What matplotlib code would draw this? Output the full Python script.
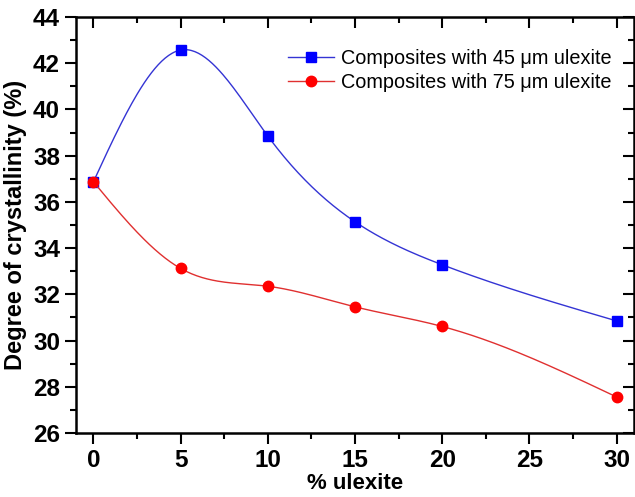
import numpy as np
import matplotlib
matplotlib.use('Agg')
import matplotlib.pyplot as plt
from matplotlib.ticker import MultipleLocator

plt.rcParams['font.family'] = ['Liberation Sans', 'DejaVu Sans']

ulexite = [0, 5, 10, 15, 20, 30]
cryst_45 = [36.87, 42.57, 38.85, 35.14, 33.28, 30.85]
cryst_75 = [36.87, 33.12, 32.35, 31.46, 30.61, 27.56]
labels = ['Composites with 45 \u03bcm ulexite', 'Composites with 75 \u03bcm ulexite']


def natural_spline(x, y, n=300):
    # natural cubic spline through the points
    x = np.asarray(x, float)
    y = np.asarray(y, float)
    k = len(x)
    h = np.diff(x)
    A = np.zeros((k, k))
    b = np.zeros(k)
    A[0, 0] = A[-1, -1] = 1
    for i in range(1, k - 1):
        A[i, i - 1] = h[i - 1]
        A[i, i] = 2 * (h[i - 1] + h[i])
        A[i, i + 1] = h[i]
        b[i] = 6 * ((y[i + 1] - y[i]) / h[i] - (y[i] - y[i - 1]) / h[i - 1])
    M = np.linalg.solve(A, b)
    xs = np.linspace(x[0], x[-1], n)
    idx = np.clip(np.searchsorted(x, xs) - 1, 0, k - 2)
    x0, x1 = x[idx], x[idx + 1]
    hh = x1 - x0
    t0 = x1 - xs
    t1 = xs - x0
    ys = (M[idx] * t0**3 / (6 * hh) + M[idx + 1] * t1**3 / (6 * hh)
          + (y[idx] / hh - M[idx] * hh / 6) * t0
          + (y[idx + 1] / hh - M[idx + 1] * hh / 6) * t1)
    return xs, ys


def set_locators(a):
    a.xaxis.set_major_locator(MultipleLocator(5))
    a.xaxis.set_minor_locator(MultipleLocator(2.5))
    a.yaxis.set_major_locator(MultipleLocator(2))
    a.yaxis.set_minor_locator(MultipleLocator(1))


rect = [76 / 635, 1 - 433 / 497, 558 / 635, 416 / 497]
fig = plt.figure(figsize=(6.35, 4.97), dpi=100)
ax = fig.add_axes(rect)

for ys, col, lc, mk, ms, lab in [(cryst_45, '#0000ff', '#3434d4', 's', 6.5, labels[0]),
                                 (cryst_75, '#ff0000', '#e03030', 'o', 7.5, labels[1])]:
    sx, sy = natural_spline(ulexite, ys)
    ax.plot(sx, sy, color=lc, lw=1.0)
    ax.plot(ulexite, ys, ls='none', marker=mk, ms=ms, color=col)
    ax.plot([], [], color=lc, lw=1.0, marker=mk, ms=ms, mfc=col, mec=col, label=lab)

ax.set_xlim(-1, 31)
ax.set_ylim(26, 44)
set_locators(ax)

for s in ax.spines.values():
    s.set_linewidth(1.8)
ax.tick_params(which='both', direction='out', width=1.5, labelsize=17.5)
ax.tick_params(which='major', length=8)
ax.tick_params(which='minor', length=4)
for t in ax.xaxis.get_ticklabels() + ax.yaxis.get_ticklabels():
    t.set_fontweight('bold')

# inward ticks on the top and right spines
ax_in = fig.add_axes(rect, frameon=False, sharex=ax, sharey=ax)
ax_in.patch.set_alpha(0)
ax_in.tick_params(which='both', direction='in', width=1.5,
                  top=True, right=True, bottom=False, left=False,
                  labeltop=False, labelright=False, labelbottom=False, labelleft=False)
ax_in.tick_params(which='major', length=8)
ax_in.tick_params(which='minor', length=4)
ax.set_zorder(ax_in.get_zorder() + 1)
ax.patch.set_alpha(0)

ax.set_xlabel('% ulexite', fontsize=16, fontweight='bold', labelpad=1)
ax.set_ylabel('Degree of crystallinity (%)', fontsize=17, fontweight='bold', labelpad=4)

ax.legend(loc='upper left', frameon=False, fontsize=14.3, handlelength=2.3,
          handletextpad=0.35, labelspacing=0.25, borderpad=0, borderaxespad=0,
          bbox_to_anchor=(0.38, 0.923))

fig.savefig('out.png', dpi=100)
